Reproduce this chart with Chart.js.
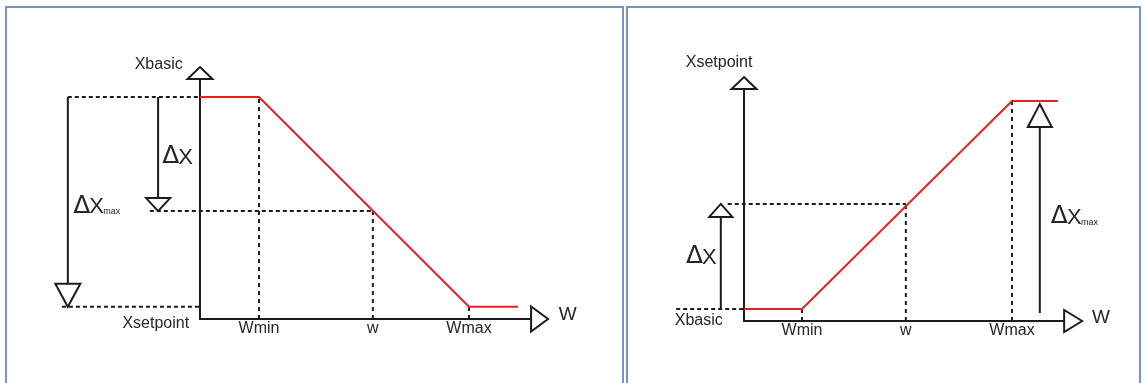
<!DOCTYPE html>
<html>
<head>
<meta charset="utf-8">
<script src="https://cdn.jsdelivr.net/npm/chart.js@4"></script>
<style>
  body { margin: 0; background: #fff; width: 1144px; height: 383px; overflow: hidden; position: relative; }
  .panel { position: absolute; top: 6px; height: 400px; border: 2px solid #7396c9; box-sizing: border-box; }
  #leftPanel { left: 5px; width: 619px; }
  #rightPanel { left: 626px; width: 515px; }
  canvas { position: absolute; }
  #leftChart { left: 8px; top: 8px; }
  #rightChart { left: 629px; top: 8px; }
</style>
</head>
<body>
<div class="panel" id="leftPanel"></div>
<div class="panel" id="rightPanel"></div>
<canvas id="leftChart" width="612" height="375"></canvas>
<canvas id="rightChart" width="509" height="375"></canvas>
<script>
// --- Left diagram: X drops from Xbasic to Xsetpoint between Wmin and Wmax ---
const leftLineW = [0, 1, 4.56, 5.39];
const leftLineX = [10, 10, 0.55, 0.55];
const leftTickW = [1, 2.93, 4.56];
const leftTickText = ["Wmin", "w", "Wmax"];
const leftTickLevel = [10, 4.86, 0.55];     // how high each dotted vertical goes
const leftGuideLevel = [10, 4.86, 0.55];    // dotted horizontals
const leftGuideFrom = [-2.24, -0.85, -2.34];
const leftGuideTo = [0, 2.93, 0];
const leftDeltaW = [-0.71, -2.24];          // ΔX, ΔXmax arrows
const leftDeltaFrom = [10, 10];
const leftDeltaTo = [4.86, 0.55];

// --- Right diagram: X rises from Xbasic to Xsetpoint between Wmin and Wmax ---
const rightLineW = [0, 1, 4.62, 5.41];
const rightLineX = [0.55, 0.55, 10, 10];
const rightTickW = [1, 2.79, 4.62];
const rightTickText = ["Wmin", "w", "Wmax"];
const rightTickLevel = [0.55, 5.32, 10];
const rightGuideLevel = [0.55, 5.32];
const rightGuideFrom = [-1.17, -0.28];
const rightGuideTo = [0, 2.79];
const rightDeltaW = [-0.40, 5.10];
const rightDeltaFrom = [0.59, 0.36];
const rightDeltaTo = [5.32, 9.86];

const RED = "#ee1c24";
const INK = "#1c1c1c";
const TEXT = "#262626";
const FONT = '"Liberation Sans", Arial, sans-serif';

function seg(x1, y1, x2, y2) {
  return [{ x: x1, y: y1 }, { x: x2, y: y2 }];
}

function buildDatasets(d) {
  const base = { showLine: true, pointRadius: 0, fill: false, tension: 0, clip: false, borderWidth: 2 };
  const sets = [];
  sets.push({ ...base, data: d.lineW.map((w, i) => ({ x: w, y: d.lineX[i] })), borderColor: RED, order: 0 });
  // axes
  sets.push({ ...base, data: [{ x: 0, y: d.yTop }, { x: 0, y: 0 }, { x: d.xEnd, y: 0 }], borderColor: INK, order: 1 });
  // ΔX arrows
  d.deltaW.forEach((w, i) => {
    sets.push({ ...base, data: seg(w, d.deltaFrom[i], w, d.deltaTo[i]), borderColor: INK, order: 1 });
  });
  // dotted guides
  d.tickW.forEach((w, i) => {
    sets.push({ ...base, data: seg(w, 0, w, d.tickLevel[i]), borderColor: INK, borderDash: [4, 4], order: 2 });
  });
  d.guideLevel.forEach((lv, i) => {
    sets.push({ ...base, data: seg(d.guideFrom[i], lv, d.guideTo[i], lv), borderColor: INK, borderDash: [4, 3], order: 2 });
  });
  return sets;
}

// hollow arrow heads and text, placed through the chart's own scales
const diagramDecor = {
  id: "diagramDecor",
  afterDraw(chart, args, opts) {
    const ctx = chart.ctx;
    const xs = chart.scales.x, ys = chart.scales.y;
    const d = opts.d;

    const heads = [
      { x: 0, y: d.yTop, dir: "up", size: d.headSizes[0] },
      { x: d.xEnd, y: 0, dir: "right", size: d.headSizes[1] }
    ];
    d.deltaW.forEach((w, i) => {
      heads.push({ x: w, y: d.deltaTo[i], dir: d.deltaTo[i] > d.deltaFrom[i] ? "up" : "down", size: d.headSizes[2 + i] });
    });

    ctx.save();
    ctx.lineWidth = 2;
    ctx.strokeStyle = INK;
    ctx.fillStyle = "#fff";
    ctx.lineJoin = "miter";
    heads.forEach(h => {
      const px = xs.getPixelForValue(h.x), py = ys.getPixelForValue(h.y);
      const [across, along] = h.size;
      ctx.beginPath();
      if (h.dir === "up") {
        ctx.moveTo(px, py);
        ctx.lineTo(px + across / 2, py + along);
        ctx.lineTo(px - across / 2, py + along);
      } else if (h.dir === "down") {
        ctx.moveTo(px, py);
        ctx.lineTo(px + across / 2, py - along);
        ctx.lineTo(px - across / 2, py - along);
      } else {
        ctx.moveTo(px, py);
        ctx.lineTo(px - along, py - across / 2);
        ctx.lineTo(px - along, py + across / 2);
      }
      ctx.closePath();
      ctx.fill();
      ctx.stroke();
    });

    // tick labels under the W axis
    ctx.fillStyle = TEXT;
    ctx.textBaseline = "middle";
    ctx.textAlign = "center";
    ctx.font = "16px " + FONT;
    d.tickW.forEach((w, i) => {
      ctx.fillText(d.tickText[i], xs.getPixelForValue(w), ys.getPixelForValue(d.tickLabelY));
    });

    d.labels.forEach(l => {
      let px = xs.getPixelForValue(l.x);
      const py = ys.getPixelForValue(l.y);
      if (l.text.startsWith("Δ")) {
        // the delta reads heavier in the source, draw it in DejaVu
        ctx.textAlign = "left";
        ctx.font = "25px 'DejaVu Sans', sans-serif";
        ctx.fillText("Δ", px, py);
        px += ctx.measureText("Δ").width - 1;
        ctx.font = l.size + "px " + FONT;
        const rest = l.text.slice(1);
        ctx.fillText(rest, px, py + 1);
        if (l.sub) {
          ctx.font = "9px " + FONT;
          ctx.fillText(l.sub, px + ctx.measureText(rest).width + 8, py + 6);
        }
        return;
      }
      ctx.textAlign = l.align || "center";
      ctx.font = l.size + "px " + FONT;
      ctx.fillText(l.text, px, py);
    });
    ctx.restore();
  }
};

function makeDiagram(id, d, range) {
  new Chart(document.getElementById(id), {
    type: "scatter",
    data: { datasets: buildDatasets(d) },
    options: {
      responsive: false,
      animation: false,
      events: [],
      layout: { padding: 0 },
      scales: {
        x: { type: "linear", display: false, min: range.xMin, max: range.xMax },
        y: { type: "linear", display: false, min: range.yMin, max: range.yMax }
      },
      plugins: {
        legend: { display: false },
        tooltip: { enabled: false },
        diagramDecor: { d: d }
      }
    },
    plugins: [diagramDecor]
  });
}

makeDiagram("leftChart", {
  lineW: leftLineW, lineX: leftLineX,
  tickW: leftTickW, tickText: leftTickText, tickLevel: leftTickLevel, tickLabelY: -0.45,
  guideLevel: leftGuideLevel, guideFrom: leftGuideFrom, guideTo: leftGuideTo,
  deltaW: leftDeltaW, deltaFrom: leftDeltaFrom, deltaTo: leftDeltaTo,
  yTop: 11.35, xEnd: 5.9,
  headSizes: [[25, 12], [25, 17], [24, 13], [25, 23]],
  labels: [
    { text: "Xbasic", x: -0.70, y: 11.45, size: 16 },
    { text: "Xsetpoint", x: -0.75, y: -0.2, size: 16 },
    { text: "ΔX", x: -0.64, y: 7.30, size: 22 },
    { text: "ΔX", sub: "max", x: -2.15, y: 5.09, size: 22 },
    { text: "W", x: 6.08, y: 0.18, size: 19, align: "left" }
  ]
}, { xMin: -3.254, xMax: 7.119, yMin: -2.883, yMax: 14.009 });

makeDiagram("rightChart", {
  lineW: rightLineW, lineX: rightLineX,
  tickW: rightTickW, tickText: rightTickText, tickLevel: rightTickLevel, tickLabelY: -0.45,
  guideLevel: rightGuideLevel, guideFrom: rightGuideFrom, guideTo: rightGuideTo,
  deltaW: rightDeltaW, deltaFrom: rightDeltaFrom, deltaTo: rightDeltaTo,
  yTop: 11.09, xEnd: 5.83,
  headSizes: [[25, 12], [22, 18], [23, 13], [24, 23]],
  labels: [
    { text: "Xsetpoint", x: -0.43, y: 11.73, size: 16 },
    { text: "Xbasic", x: -0.78, y: 0.02, size: 16 },
    { text: "ΔX", x: -1.0, y: 2.91, size: 22 },
    { text: "ΔX", sub: "max", x: 5.29, y: 4.73, size: 22 },
    { text: "W", x: 6.0, y: 0.14, size: 19, align: "left" }
  ]
}, { xMin: -1.983, xMax: 6.793, yMin: -2.818, yMax: 14.227 });
</script>
</body>
</html>
